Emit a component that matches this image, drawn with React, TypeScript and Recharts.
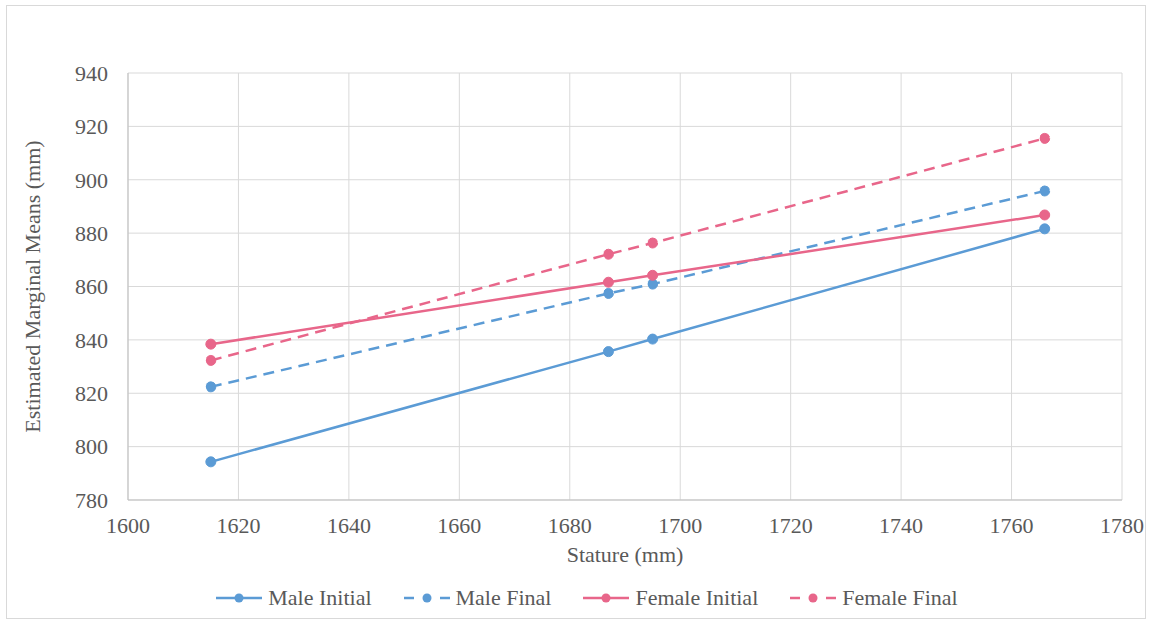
import React from "react";
import {
  CartesianGrid,
  Legend,
  Line,
  LineChart,
  XAxis,
  YAxis,
} from "recharts";

const stature = [1615, 1687, 1695, 1766];
const maleInitial = [794.3, 835.6, 840.3, 881.6];
const maleFinal = [822.4, 857.4, 860.9, 895.8];
const femaleInitial = [838.4, 861.6, 864.2, 886.8];
const femaleFinal = [832.3, 872.1, 876.3, 915.5];

const xTicks = [1600, 1620, 1640, 1660, 1680, 1700, 1720, 1740, 1760, 1780];
const yTicks = [780, 800, 820, 840, 860, 880, 900, 920, 940];

const BLUE = "#5B9BD5";
const PINK = "#E8668A";
const TEXT = "#595959";
const FONT = '"Liberation Serif", "Times New Roman", serif';
const FONT_SIZE = 22;

type Series = { name: string; values: number[]; color: string; dashed: boolean };

const series: Series[] = [
  { name: "Male Initial", values: maleInitial, color: BLUE, dashed: false },
  { name: "Male Final", values: maleFinal, color: BLUE, dashed: true },
  { name: "Female Initial", values: femaleInitial, color: PINK, dashed: false },
  { name: "Female Final", values: femaleFinal, color: PINK, dashed: true },
];

const toPoints = (values: number[]) =>
  stature.map((x, i) => ({ x, y: values[i] }));

function LegendIcon({ color, dashed }: { color: string; dashed: boolean }) {
  return (
    <svg width={46} height={14} style={{ marginRight: 6 }}>
      {dashed ? (
        <>
          <line x1={0} y1={7} x2={10} y2={7} stroke={color} strokeWidth={2.5} />
          <line x1={36} y1={7} x2={46} y2={7} stroke={color} strokeWidth={2.5} />
        </>
      ) : (
        <line x1={0} y1={7} x2={46} y2={7} stroke={color} strokeWidth={2.5} />
      )}
      <circle cx={23} cy={7} r={4.5} fill={color} />
    </svg>
  );
}

function LegendRow() {
  return (
    <div
      style={{
        display: "flex",
        justifyContent: "center",
        gap: 32,
        paddingTop: 15,
        paddingLeft: 52,
        fontFamily: FONT,
        fontSize: FONT_SIZE,
        color: TEXT,
      }}
    >
      {series.map((s) => (
        <div key={s.name} style={{ display: "flex", alignItems: "center" }}>
          <LegendIcon color={s.color} dashed={s.dashed} />
          <span>{s.name}</span>
        </div>
      ))}
    </div>
  );
}

export default function App() {
  return (
    <div
      style={{
        position: "absolute",
        left: 0,
        top: 0,
        width: 1153,
        height: 623,
        background: "#fff",
      }}
    >
      <div
        style={{
          position: "absolute",
          left: 6,
          top: 5,
          width: 1140,
          height: 614,
          border: "1px solid #D9D9D9",
          boxSizing: "border-box",
        }}
      />
      <LineChart
        width={1153}
        height={623}
        margin={{ top: 73, right: 31, left: 0, bottom: 0 }}
        style={{ position: "absolute", left: 0, top: 0 }}
      >
        <CartesianGrid stroke="#D9D9D9" strokeWidth={1} />
        <XAxis
          type="number"
          dataKey="x"
          domain={[1600, 1780]}
          ticks={xTicks}
          allowDataOverflow
          tickLine={false}
          axisLine={{ stroke: "#BFBFBF" }}
          tick={{ fill: TEXT, fontFamily: FONT, fontSize: FONT_SIZE }}
          tickMargin={11}
          height={70}
          label={{
            value: "Stature (mm)",
            position: "insideBottom",
            offset: 8,
            fill: TEXT,
            fontFamily: FONT,
            fontSize: FONT_SIZE,
          }}
        />
        <YAxis
          type="number"
          dataKey="y"
          domain={[780, 940]}
          ticks={yTicks}
          allowDataOverflow
          tickLine={false}
          axisLine={{ stroke: "#BFBFBF" }}
          tick={{ fill: TEXT, fontFamily: FONT, fontSize: FONT_SIZE }}
          tickMargin={14}
          width={128}
          label={{
            value: "Estimated Marginal Means (mm)",
            angle: -90,
            position: "insideLeft",
            offset: 32,
            style: { textAnchor: "middle" },
            fill: TEXT,
            fontFamily: FONT,
            fontSize: FONT_SIZE,
          }}
        />
        <Legend
          verticalAlign="bottom"
          content={() => <LegendRow />}
          wrapperStyle={{ height: 53 }}
        />
        {series.map((s) => (
          <Line
            key={s.name}
            name={s.name}
            data={toPoints(s.values)}
            dataKey="y"
            type="linear"
            stroke={s.color}
            strokeWidth={2.5}
            strokeDasharray={s.dashed ? "11 7" : undefined}
            dot={{ r: 5, fill: s.color, stroke: s.color, strokeWidth: 1 }}
            activeDot={false}
            isAnimationActive={false}
          />
        ))}
      </LineChart>
    </div>
  );
}
